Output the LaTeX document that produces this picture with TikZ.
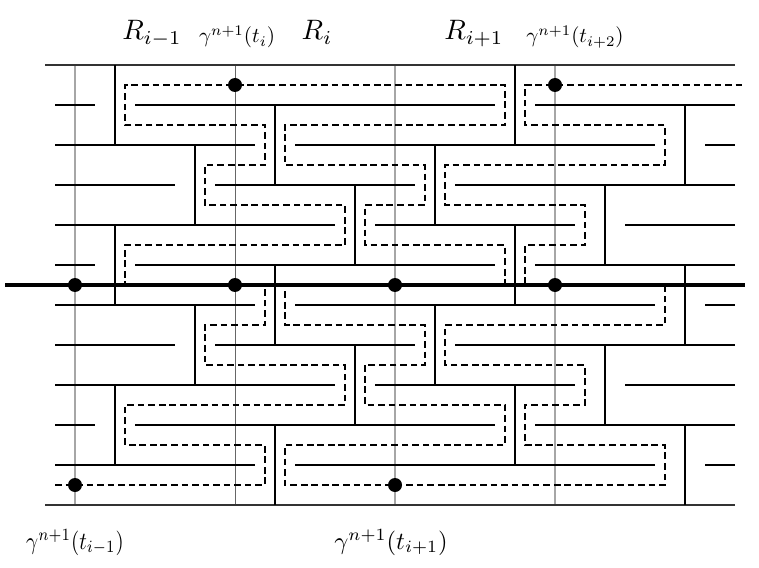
\documentclass[tikz,border=0pt]{standalone}
\usepackage{amsmath}
\usepackage{tikz}

\begin{document}
\begin{tikzpicture}[x=0.02cm, y=-0.02cm,
   wall/.style={line width=1.2pt},
   border/.style={line width=1.2pt, black!80},
   guide/.style={line width=0.9pt, black!35},
   thinguide/.style={line width=0.5pt, black!60},
   approx/.style={line width=1.2pt, dash pattern=on 3.8pt off 2.2pt},
   cutline/.style={line width=2.8pt},
   dot/.style={circle, fill, inner sep=0pt, minimum size=0.28cm},
   lbl/.style={anchor=base, inner sep=0pt}]
\useasboundingbox (0,0) rectangle (759,567);

\draw[guide] (75,65) -- (75,505);
\draw[thinguide] (235,65) -- (235,505);
\draw[guide] (395,65) -- (395,505);
\draw[guide] (555,65) -- (555,505);

\draw[border] (45,65) -- (735,65);
\draw[border] (45,505) -- (735,505);

\draw[wall] (55,105) -- (95,105) (135,105) -- (495,105) (535,105) -- (735,105);
\draw[wall] (55,145) -- (255,145) (295,145) -- (655,145) (705,145) -- (735,145);
\draw[wall] (55,185) -- (175,185) (215,185) -- (415,185) (455,185) -- (735,185);
\draw[wall] (55,225) -- (335,225) (375,225) -- (575,225) (625,225) -- (735,225);
\draw[wall] (55,265) -- (95,265) (135,265) -- (495,265) (535,265) -- (735,265);
\draw[wall] (55,305) -- (255,305) (295,305) -- (655,305) (705,305) -- (735,305);
\draw[wall] (55,345) -- (175,345) (215,345) -- (415,345) (455,345) -- (735,345);
\draw[wall] (55,385) -- (335,385) (375,385) -- (575,385) (625,385) -- (735,385);
\draw[wall] (55,425) -- (95,425) (135,425) -- (495,425) (535,425) -- (735,425);
\draw[wall] (55,465) -- (255,465) (295,465) -- (655,465) (705,465) -- (735,465);

\draw[wall] (115,65) -- (115,145) (115,225) -- (115,305) (115,385) -- (115,465);
\draw[wall] (195,145) -- (195,225) (195,305) -- (195,385);
\draw[wall] (275,105) -- (275,185) (275,265) -- (275,345) (275,425) -- (275,505);
\draw[wall] (355,185) -- (355,265) (355,345) -- (355,425);
\draw[wall] (435,145) -- (435,225) (435,305) -- (435,385);
\draw[wall] (515,65) -- (515,145) (515,225) -- (515,305) (515,385) -- (515,465);
\draw[wall] (605,185) -- (605,265) (605,345) -- (605,425);
\draw[wall] (685,105) -- (685,185) (685,265) -- (685,345) (685,425) -- (685,505);

\draw[approx] (55,485) -- (265,485) -- (265,445) -- (125,445) -- (125,405)
   -- (345,405) -- (345,365) -- (205,365) -- (205,325) -- (265,325)
   -- (265,285) -- (125,285) -- (125,245) -- (345,245) -- (345,205)
   -- (205,205) -- (205,165) -- (265,165) -- (265,125) -- (125,125)
   -- (125,85) -- (505,85) -- (505,125) -- (285,125) -- (285,165)
   -- (425,165) -- (425,205) -- (365,205) -- (365,245) -- (505,245)
   -- (505,285) -- (285,285) -- (285,325) -- (425,325) -- (425,365)
   -- (365,365) -- (365,405) -- (505,405) -- (505,445) -- (285,445)
   -- (285,485) -- (665,485) -- (665,445) -- (525,445) -- (525,405)
   -- (585,405) -- (585,365) -- (445,365) -- (445,325) -- (665,325)
   -- (665,285) -- (525,285) -- (525,245) -- (585,245) -- (585,205)
   -- (445,205) -- (445,165) -- (665,165) -- (665,125) -- (525,125)
   -- (525,85) -- (745,85);

\draw[cutline] (5,285) -- (745,285);

\node[dot] (p1) at (235,85) {};
\node[dot] (p2) at (555,85) {};
\node[dot] (q1) at (75,285) {};
\node[dot] (q2) at (235,285) {};
\node[dot] (q3) at (395,285) {};
\node[dot] (q4) at (555,285) {};
\node[dot] (s1) at (75,485) {};
\node[dot] (s2) at (395,485) {};

\node[lbl] (rprev) at (152,40) {\scalebox{1.6}{$R_{i-1}$}};
\node[lbl] (rcur) at (317,40) {\scalebox{1.6}{$R_i$}};
\node[lbl] (rnext) at (474,40) {\scalebox{1.6}{$R_{i+1}$}};
\node[lbl] (gti) at (237,43) {\scalebox{1.2}{$\gamma^{n+1}(t_i)$}};
\node[lbl] (gtii) at (575,43) {\scalebox{1.2}{$\gamma^{n+1}(t_{i+2})$}};
\node[lbl] (gprev) at (75,549) {\scalebox{1.2}[1.4]{$\gamma^{n+1}(t_{i-1})$}};
\node[lbl] (gnext) at (391,549) {\scalebox{1.4}{$\gamma^{n+1}(t_{i+1})$}};
\end{tikzpicture}
\end{document}
